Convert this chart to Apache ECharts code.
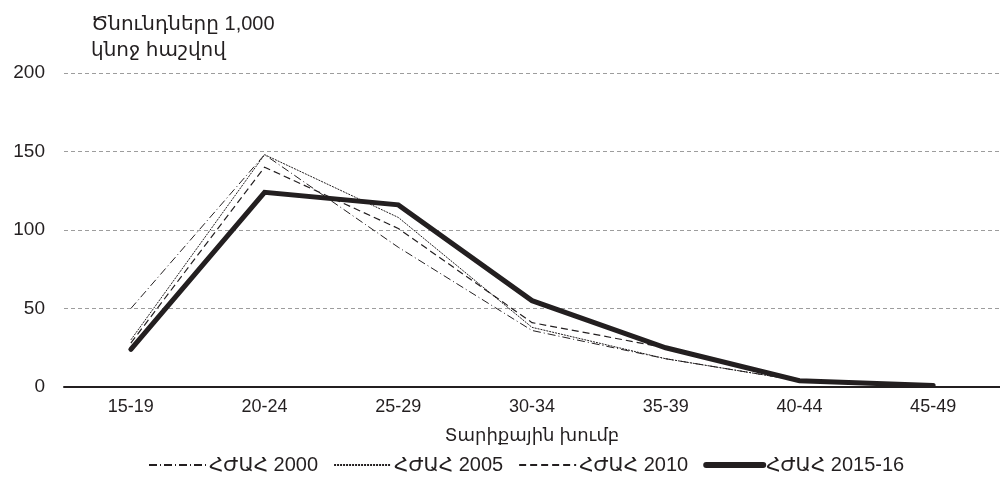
<!DOCTYPE html>
<html>
<head>
<meta charset="utf-8">
<script src="https://cdn.jsdelivr.net/npm/echarts@6/dist/echarts.min.js"></script>
<style>
html,body{margin:0;padding:0;background:#fff;}
#c{width:1000px;height:484px;}
</style>
</head>
<body>
<div id="c"></div>
<script>
const categories = ['15-19','20-24','25-29','30-34','35-39','40-44','45-49'];
const s2000 = [50, 148, 89, 36, 18, 4, 1];
const s2005 = [30, 148, 108, 38, 18, 4, 1];
const s2010 = [28, 140, 101, 41, 25, 4, 1];
const s2015 = [24, 124, 116, 55, 25, 4, 1];
const seriesNames = ['ՀԺԱՀ 2000','ՀԺԱՀ 2005','ՀԺԱՀ 2010','ՀԺԱՀ 2015-16'];
const yTicks = [0, 50, 100, 150, 200];
const yTitle = 'Ծնունդները 1,000\nկնոջ հաշվով';
const xTitle = 'Տարիքային խումբ';

const FONT = '"Liberation Sans", Arial, "DejaVu Sans", sans-serif';
const INK = '#231f20';

const chart = echarts.init(document.getElementById('c'), null, {renderer:'canvas'});
const styles = [
  {width:1, type:[8,3,1,3]},
  {width:1, type:[2,1]},
  {width:1.2, type:[7,4]},
  {width:5, type:'solid'}
];
const dataSets = [s2000, s2005, s2010, s2015];
chart.setOption({
  animation:false,
  title:{text:yTitle, left:86, top:6, textStyle:{fontFamily:FONT, fontSize:20, fontWeight:'normal', color:INK, lineHeight:26}},
  grid:{left:64, right:-3, top:73, bottom:97, containLabel:false},
  legend:{
    bottom:4, left:143, itemWidth:57, itemHeight:12, itemGap:15,
    itemStyle:{opacity:0},
    textStyle:{fontFamily:FONT, fontSize:20, color:INK, padding:[0,0,0,-2]},
    data:seriesNames.map((n,i)=> i===3 ? {name:n, lineStyle:{width:6, cap:'round'}} : {name:n})
  },
  xAxis:{
    type:'category', data:categories, boundaryGap:true,
    name:xTitle, nameLocation:'middle', nameGap:40,
    nameTextStyle:{fontFamily:FONT, fontSize:18, color:INK},
    axisLine:{lineStyle:{color:INK, width:2}},
    axisTick:{show:false},
    axisLabel:{fontFamily:FONT, fontSize:18, color:INK, margin:11}
  },
  yAxis:{
    type:'value', min:yTicks[0], max:yTicks[yTicks.length-1], interval:50,
    axisLine:{show:false}, axisTick:{show:false},
    axisLabel:{fontFamily:FONT, fontSize:19, color:INK, margin:19},
    splitLine:{lineStyle:{color:'#9d9d9d', type:[4,3], width:1}}
  },
  series: seriesNames.map((n,i)=>({
    name:n, type:'line', data:dataSets[i], symbol:'none',
    lineStyle:{color:INK, width:styles[i].width, type:styles[i].type, cap: i===3?'round':'butt', join:'miter'},
    itemStyle:{color:INK},
    z: i===3?5:3
  }))
});
</script>
</body>
</html>
